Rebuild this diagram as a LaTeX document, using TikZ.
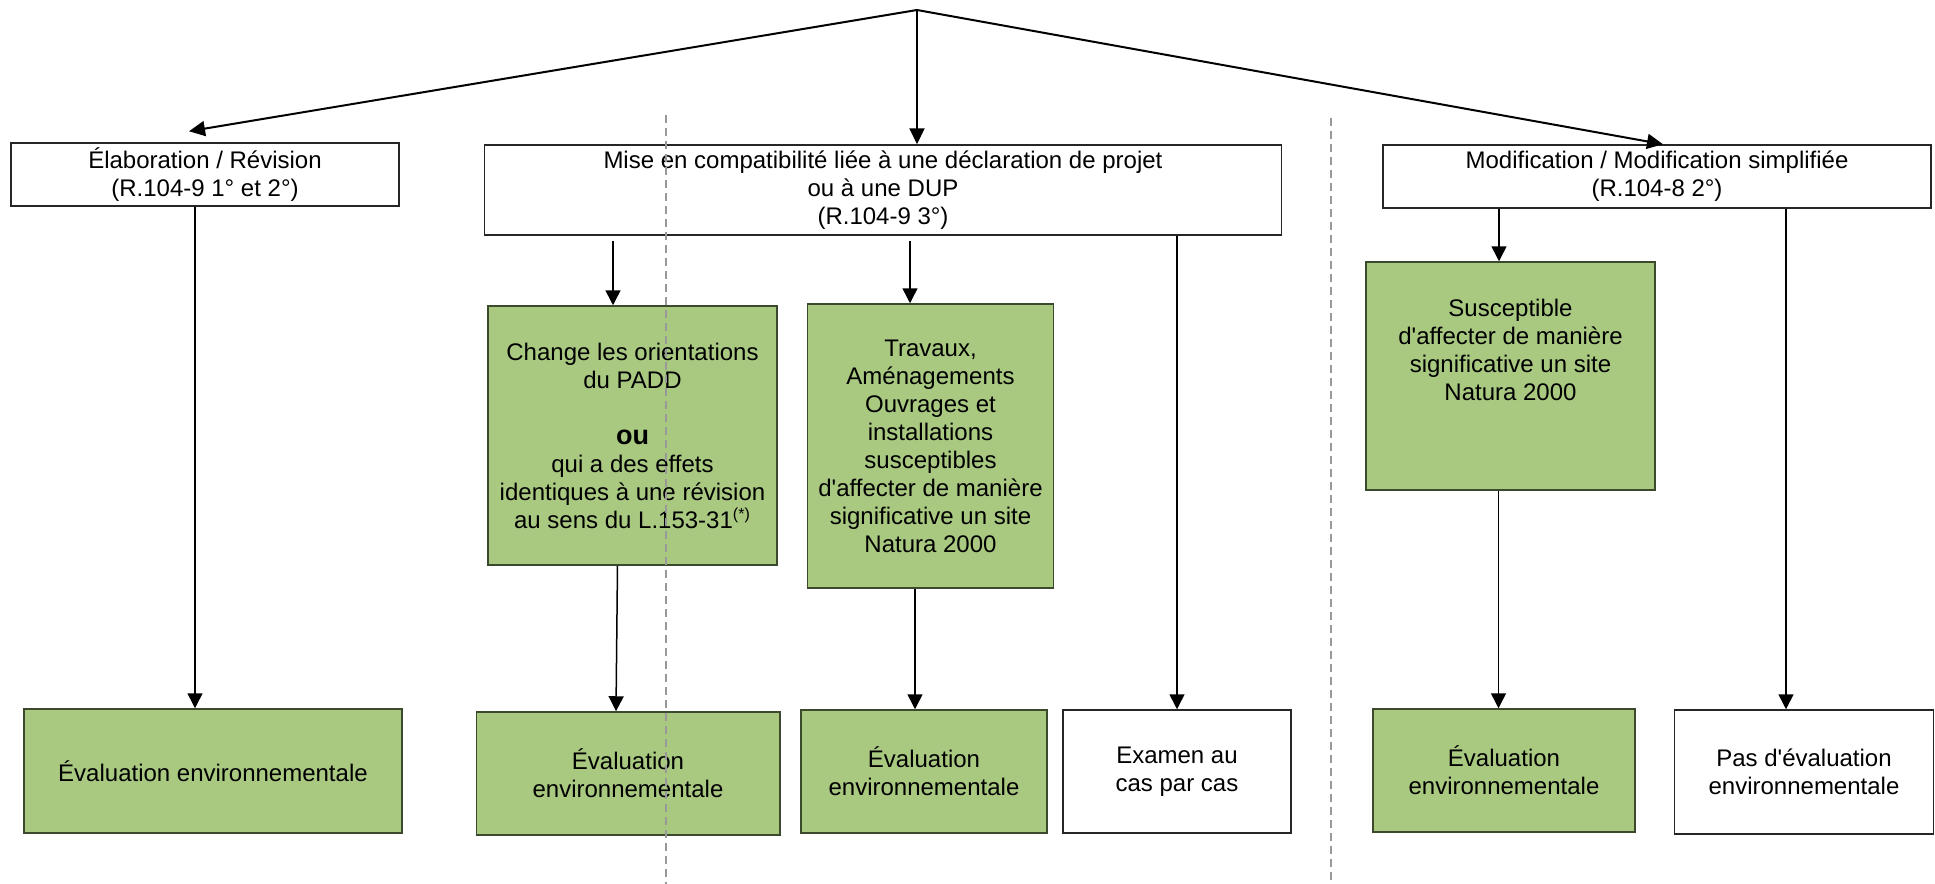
\documentclass[tikz,border=0pt]{standalone}
\usepackage{fontspec}
\setmainfont{Liberation Sans}
\usetikzlibrary{arrows.meta}
\definecolor{boxgreen}{RGB}{169,201,129}
\definecolor{boxedge}{RGB}{59,74,44}
\tikzset{box/.style={draw, line width=0.75pt, align=center, inner sep=0pt, font=\fontsize{12}{14}\selectfont}}
\tikzset{greenbox/.style={box, draw=boxedge, fill=boxgreen}}
\tikzset{whitebox/.style={box, draw=black!85, fill=white}}
\tikzset{arrow/.style={line width=0.75pt, -{Triangle[length=7.5pt, width=7.5pt]}}}
\tikzset{bigarrow/.style={line width=1pt, -{Triangle[length=8pt, width=7.5pt]}}}
\tikzset{divider/.style={draw=gray!80, line width=0.6pt, dash pattern=on 4pt off 2.5pt}}
\newcommand{\apos}{\textquotesingle}

\begin{document}
\begin{tikzpicture}[x=0.5pt, y=-0.5pt]
\useasboundingbox (0,0) rectangle (1935,884);

\node[whitebox, minimum width=194pt, minimum height=31.5pt] (elab) at (205,174.5) {Élaboration / Révision\\(R.104-9 1° et 2°)};
\node[whitebox, minimum width=398.5pt, minimum height=45pt] (mise) at (883,190) {Mise en compatibilité liée à une déclaration de projet\\ou à une DUP\\(R.104-9 3°)};
\node[whitebox, minimum width=274pt, minimum height=31.5pt] (modif) at (1657,176.5) {Modification / Modification simplifiée\\(R.104-8 2°)};

\node[greenbox, minimum width=144.5pt, minimum height=129.5pt] (padd) at (632.5,435.5) {Change les orientations\\du PADD\\[14pt]{\fontsize{13.5}{14}\selectfont\bfseries ou}\\qui a des effets\\identiques à une révision\\au sens du L.153-31\textsuperscript{(*)}};
\node[greenbox, minimum width=123pt, minimum height=142pt] (trav) at (930.5,446) {Travaux,\\Aménagements\\Ouvrages et\\installations\\susceptibles\\d\apos affecter de manière\\significative un site\\Natura 2000};
\node[greenbox, minimum width=144.5pt, minimum height=114pt] (natura) at (1510.5,376) {Susceptible\\d\apos affecter de manière\\significative un site\\Natura 2000\\[12pt]\mbox{}};

\node[greenbox, minimum width=189pt, minimum height=62pt] (evalA) at (213,771) {Évaluation environnementale};
\node[greenbox, minimum width=151.75pt, minimum height=61.5pt] (evalB) at (628,773.5) {Évaluation\\environnementale};
\node[greenbox, minimum width=123pt, minimum height=61.5pt] (evalC) at (924,771.5) {Évaluation\\environnementale};
\node[whitebox, minimum width=114pt, minimum height=61.5pt] (examen) at (1177,771.5) {Examen au\\cas par cas};
\node[greenbox, minimum width=131pt, minimum height=61.5pt] (evalD) at (1504,770.5) {Évaluation\\environnementale};
\node[whitebox, minimum width=129.5pt, minimum height=62pt] (pas) at (1804,772) {Pas d\apos évaluation\\environnementale};

% arrows from the top
\coordinate (apex) at (917,10);
\draw[bigarrow] (apex) -- ([xshift=-8pt, yshift=5.5pt]elab.north);
\draw[bigarrow] (apex) -- ([xshift=17pt]mise.north);
\draw[bigarrow] (apex) -- ([xshift=3pt]modif.north);

\draw[arrow] ([xshift=-5pt]elab.south) -- ([xshift=-9pt]evalA.north);
\draw[arrow] ([xshift=-9.75pt, yshift=-2.5pt]padd.north |- mise.south) -- ([xshift=-9.75pt]padd.north);
\draw[arrow] ([xshift=-10.25pt, yshift=-2.5pt]trav.north |- mise.south) -- ([xshift=-10.25pt]trav.north);
\draw[arrow] (examen.north |- mise.south) -- (examen.north);
\draw[arrow] ([xshift=-7.5pt]padd.south) -- ([xshift=-6pt]evalB.north);
\draw[arrow] ([xshift=-7.75pt]trav.south) -- ([xshift=-4.5pt]evalC.north);
\draw[arrow] ([xshift=-5.75pt]natura.north |- modif.south) -- ([xshift=-5.75pt]natura.north);
\draw[arrow] ([xshift=-6pt]natura.south) -- ([xshift=-2.75pt]evalD.north);
\draw[arrow] ([xshift=-9pt]pas.north |- modif.south) -- ([xshift=-9pt]pas.north);

% dashed separators
\draw[divider] (666,115) -- (666,884);
\draw[divider] (1331,118) -- (1331,884);
\end{tikzpicture}
\end{document}
